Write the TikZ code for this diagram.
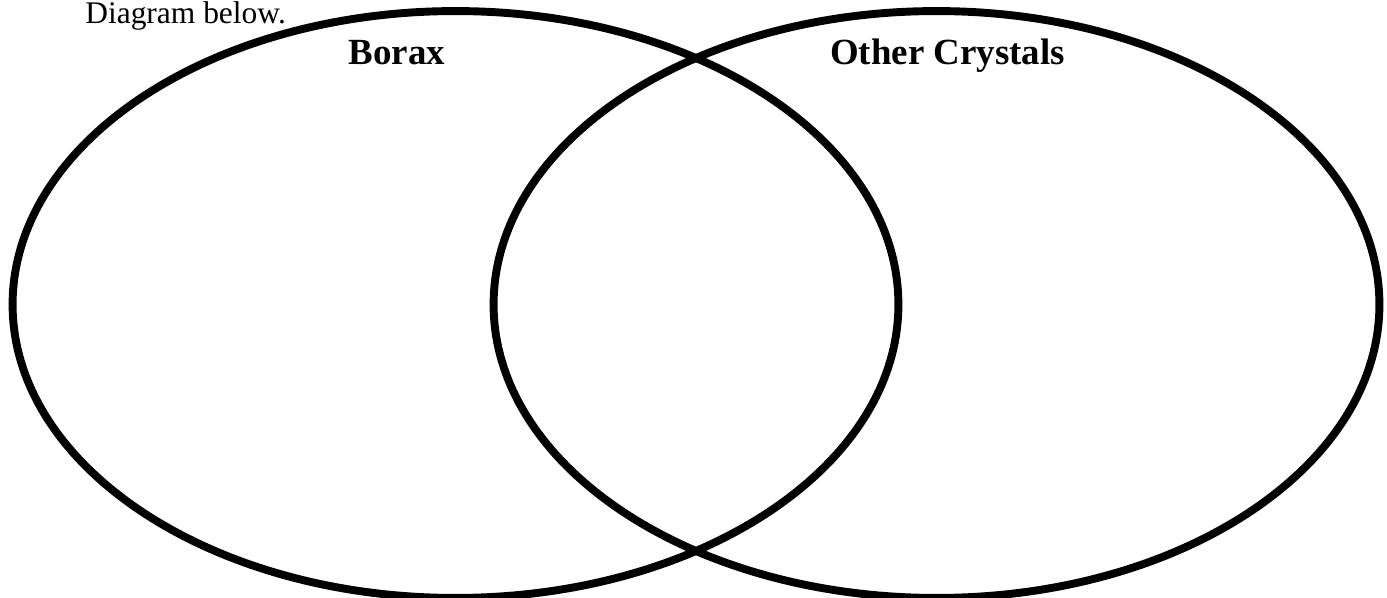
\documentclass[tikz,border=0pt]{standalone}
\usepackage{fontspec}
\setmainfont{Liberation Serif}
\usetikzlibrary{shapes.geometric, positioning}

\begin{document}
\begin{tikzpicture}[x=0.02cm, y=-0.02cm,
    setbox/.style={draw, ellipse, line width=4.5pt, minimum width=17.72cm, minimum height=11.74cm, inner sep=0pt},
    setname/.style={font=\fontsize{21}{25}\selectfont\bfseries, inner sep=0pt, anchor=base}]
    \useasboundingbox (0,0) rectangle (1387,598);
    \node (intro) [anchor=base west, inner sep=0pt, font=\fontsize{17.9}{21}\selectfont] at (85,24) {Diagram below.};
    \node (borax) [setbox] at (455.5,304.5) {};
    \node (other) [setbox] at (936.5,304.5) {};
    \node (boraxname) [setname] at (397,65) {Borax};
    \node (othername) [setname] at (947.5,65) {Other Crystals};
\end{tikzpicture}
\end{document}
